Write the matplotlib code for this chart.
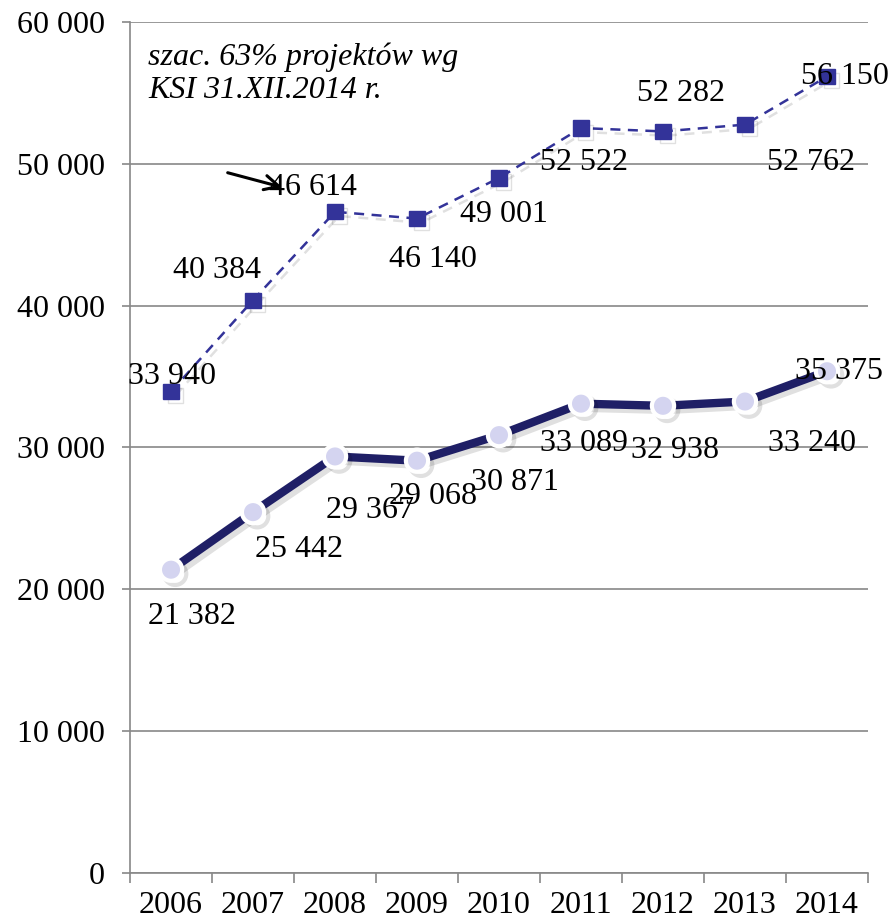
import numpy as np
import matplotlib
matplotlib.use("Agg")
import matplotlib.pyplot as plt
import matplotlib.patheffects as pe
from matplotlib.ticker import FuncFormatter

years = ['2006', '2007', '2008', '2009', '2010', '2011', '2012', '2013', '2014']
estimated = [33940, 40384, 46614, 46140, 49001, 52522, 52282, 52762, 56150]
actual = [21382, 25442, 29367, 29068, 30871, 33089, 32938, 33240, 35375]

# label offsets in pixels (dx, dy)
est_offsets = [(1, 15), (-36, 30), (-22, 24), (16, -41), (5, -37),
               (3, -34), (18, 38), (66, -38), (18, 0)]
act_offsets = [(21, -47), (46, -37), (35, -54), (16, -36), (16, -47),
               (3, -40), (12, -45), (67, -42), (12, 0)]

plt.rcParams['font.family'] = ['Liberation Serif', 'DejaVu Serif']
FS = 23

fig = plt.figure(figsize=(8.95, 9.23), dpi=100)
ax = fig.add_axes([0.1453, 0.0542, 0.8245, 0.922])

x = np.arange(len(years))
shadow = [pe.SimpleLineShadow(offset=(3, -3), alpha=0.12, shadow_color='k'), pe.Normal()]

ax.plot(x, estimated, color='#333399', lw=1.8, ls=(0, (4, 3)), marker='s', ms=11,
        mfc='#333399', mec='#333399', path_effects=shadow, zorder=3)
ax.plot(x, actual, color='#1f1f66', lw=6, marker='o', ms=16,
        mfc='#d4d4f0', mec='white', mew=3, path_effects=shadow, zorder=3)

def fmt(v):
    return f'{v:,}'.replace(',', ' ')

for xi, v, (dx, dy) in zip(x, estimated, est_offsets):
    ax.annotate(fmt(v), (xi, v), xytext=(dx, dy), textcoords='offset pixels',
                ha='center', va='center', fontsize=FS, zorder=5)
for xi, v, (dx, dy) in zip(x, actual, act_offsets):
    ax.annotate(fmt(v), (xi, v), xytext=(dx, dy), textcoords='offset pixels',
                ha='center', va='center', fontsize=FS, zorder=5)

ax.set_xlim(-0.5, len(years) - 0.5)
ax.set_ylim(0, 60000)
ax.set_yticks(np.arange(0, 60001, 10000))
ax.yaxis.set_major_formatter(FuncFormatter(lambda v, p: fmt(int(v))))
ax.set_xticks(x)
ax.set_xticklabels(years)
ax.set_xticks(np.arange(-0.5, len(years)), minor=True)
ax.tick_params(axis='x', which='major', length=0, pad=13, labelsize=FS)
ax.tick_params(axis='x', which='minor', length=7, width=1.2, color='#888888', direction='out')
ax.tick_params(axis='y', length=6, width=1.2, color='#888888', pad=12, labelsize=FS)

ax.grid(axis='y', color='#888888', lw=1.2, zorder=0)
ax.set_axisbelow(True)
for s in ['top', 'right']:
    ax.spines[s].set_visible(False)
for s in ['left', 'bottom']:
    ax.spines[s].set_color('#888888')
    ax.spines[s].set_linewidth(1.2)

fig.text(148 / 895, 1 - 74 / 923, 'szac. 63% projektów wg\nKSI 31.XII.2014 r.',
         fontsize=FS, style='italic', va='center', ha='left', linespacing=1.2)
ax.annotate('', xy=(285 / 895, 1 - 188 / 923), xytext=(225 / 895, 1 - 172 / 923),
            xycoords='figure fraction', textcoords='figure fraction',
            arrowprops=dict(arrowstyle='->', lw=2.2, color='black', mutation_scale=26))

fig.savefig('out.png', dpi=100)
